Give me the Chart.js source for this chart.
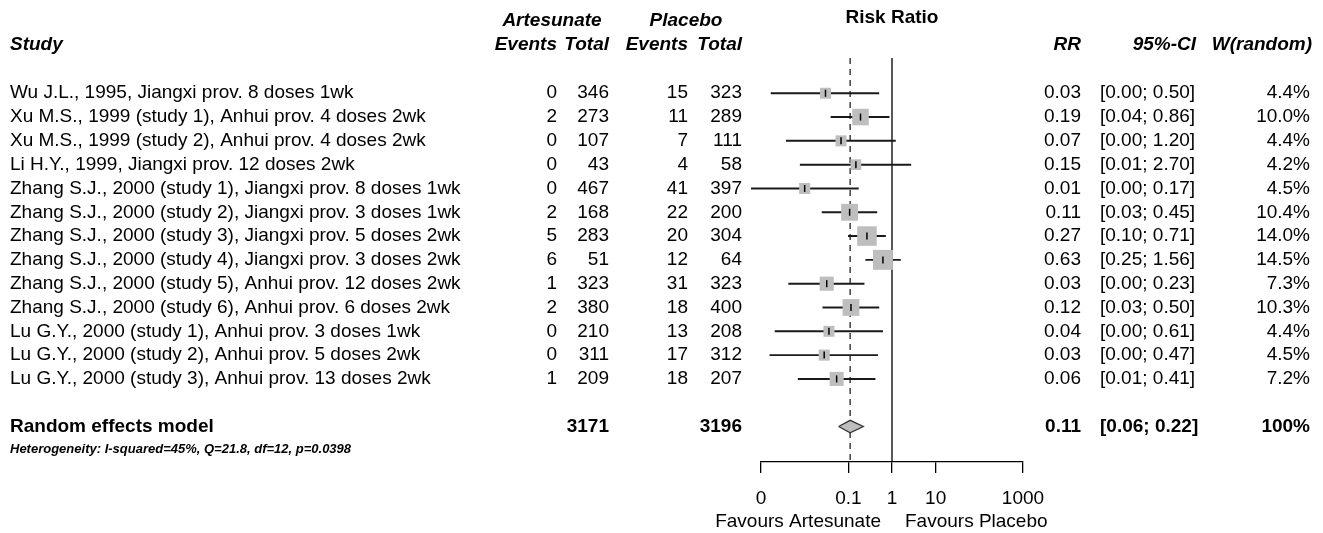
<!DOCTYPE html>
<html>
<head>
<meta charset="utf-8">
<title>Forest plot - Artesunate vs Placebo</title>
<script src="https://cdn.jsdelivr.net/npm/chart.js@4.4.0/dist/chart.umd.min.js"></script>
<style>
  body { margin: 0; background: #fff; }
  #wrap { width: 1323px; height: 533px; }
</style>
</head>
<body>
<div id="wrap"><canvas id="forest" width="1323" height="533"></canvas></div>
<script>
// study table
const studies = [
    'Wu J.L., 1995, Jiangxi prov. 8 doses 1wk',
    'Xu M.S., 1999 (study 1), Anhui prov. 4 doses 2wk',
    'Xu M.S., 1999 (study 2), Anhui prov. 4 doses 2wk',
    'Li H.Y., 1999, Jiangxi prov. 12 doses 2wk',
    'Zhang S.J., 2000 (study 1), Jiangxi prov. 8 doses 1wk',
    'Zhang S.J., 2000 (study 2), Jiangxi prov. 3 doses 1wk',
    'Zhang S.J., 2000 (study 3), Jiangxi prov. 5 doses 2wk',
    'Zhang S.J., 2000 (study 4), Jiangxi prov. 3 doses 2wk',
    'Zhang S.J., 2000 (study 5), Anhui prov. 12 doses 2wk',
    'Zhang S.J., 2000 (study 6), Anhui prov. 6 doses 2wk',
    'Lu G.Y., 2000 (study 1), Anhui prov. 3 doses 1wk',
    'Lu G.Y., 2000 (study 2), Anhui prov. 5 doses 2wk',
    'Lu G.Y., 2000 (study 3), Anhui prov. 13 doses 2wk'
];
const artEvents = [0, 2, 0, 0, 0, 2, 5, 6, 1, 2, 0, 0, 1];
const artTotal = [346, 273, 107, 43, 467, 168, 283, 51, 323, 380, 210, 311, 209];
const placEvents = [15, 11, 7, 4, 41, 22, 20, 12, 31, 18, 13, 17, 18];
const placTotal = [323, 289, 111, 58, 397, 200, 304, 64, 323, 400, 208, 312, 207];

// risk ratios and intervals
const rr = [0.030, 0.19, 0.068, 0.149, 0.010, 0.107, 0.267, 0.62, 0.032, 0.115, 0.036, 0.028, 0.054];
const ciLow = [0.0017, 0.04, 0.0038, 0.0079, 0.0006, 0.025, 0.10, 0.25, 0.0043, 0.026, 0.0021, 0.0016, 0.0071];
const ciHigh = [0.50, 0.86, 1.20, 2.70, 0.17, 0.45, 0.71, 1.56, 0.23, 0.50, 0.61, 0.47, 0.41];
const weights = [4.4, 10.0, 4.4, 4.2, 4.5, 10.4, 14.0, 14.5, 7.3, 10.3, 4.4, 4.5, 7.2];

const rrLabels = ['0.03', '0.19', '0.07', '0.15', '0.01', '0.11', '0.27', '0.63', '0.03', '0.12', '0.04', '0.03', '0.06'];
const ciLabels = ['[0.00; 0.50]', '[0.04; 0.86]', '[0.00; 1.20]', '[0.01; 2.70]', '[0.00; 0.17]', '[0.03; 0.45]',
    '[0.10; 0.71]', '[0.25; 1.56]', '[0.00; 0.23]', '[0.03; 0.50]', '[0.00; 0.61]', '[0.00; 0.47]', '[0.01; 0.41]'];
const weightLabels = ['4.4%', '10.0%', '4.4%', '4.2%', '4.5%', '10.4%', '14.0%', '14.5%', '7.3%', '10.3%', '4.4%', '4.5%', '7.2%'];

// pooled estimate
const pooledRR = 0.11;
const pooledLow = 0.06;
const pooledHigh = 0.22;
const pooledArtTotal = 3171;
const pooledPlacTotal = 3196;
const hetText = 'Heterogeneity: I-squared=45%, Q=21.8, df=12, p=0.0398';

// axis
const tickValues = [0.001, 0.1, 1, 10, 1000];
const tickLabels = ['0', '0.1', '1', '10', '1000'];

const FONT = '"Liberation Sans", Arial, Helvetica, sans-serif';
const POOLED_ROW = studies.length + 2;
const Y_MIN = -0.48;
const Y_MAX = 16.49;

function put(ctx, text, x, y, align, style) {
    ctx.save();
    ctx.font = style + ' ' + FONT;
    ctx.textAlign = align;
    ctx.textBaseline = 'middle';
    ctx.fillStyle = '#000';
    ctx.fillText(text, x, y);
    ctx.restore();
}

// the table columns and labels round the plot
const tablePlugin = {
    id: 'forestTable',
    afterDraw: function (chart) {
        var ctx = chart.ctx;
        var ys = chart.scales.y;
        var xs = chart.scales.x;
        var head = 'bold italic 19px';

        put(ctx, 'Risk Ratio', xs.getPixelForValue(1), 18, 'center', 'bold 19px');
        put(ctx, 'Artesunate', 552, 21, 'center', head);
        put(ctx, 'Placebo', 686, 21, 'center', head);
        put(ctx, 'Study', 10, 45, 'left', head);
        put(ctx, 'Events', 557, 45, 'right', head);
        put(ctx, 'Total', 609, 45, 'right', head);
        put(ctx, 'Events', 688, 45, 'right', head);
        put(ctx, 'Total', 742, 45, 'right', head);
        put(ctx, 'RR', 1081, 45, 'right', head);
        put(ctx, '95%-CI', 1196, 45, 'right', head);
        put(ctx, 'W(random)', 1312, 45, 'right', head);

        for (var i = 0; i < studies.length; i++) {
            var py = ys.getPixelForValue(i + 1);
            put(ctx, studies[i], 10, py, 'left', '19px');
            put(ctx, String(artEvents[i]), 557, py, 'right', '19px');
            put(ctx, String(artTotal[i]), 609, py, 'right', '19px');
            put(ctx, String(placEvents[i]), 688, py, 'right', '19px');
            put(ctx, String(placTotal[i]), 742, py, 'right', '19px');
            put(ctx, rrLabels[i], 1081, py, 'right', '19px');
            put(ctx, ciLabels[i], 1100, py, 'left', '19px');
            put(ctx, weightLabels[i], 1310, py, 'right', '19px');
        }

        var pr = ys.getPixelForValue(POOLED_ROW);
        put(ctx, 'Random effects model', 10, pr, 'left', 'bold 19px');
        put(ctx, String(pooledArtTotal), 609, pr, 'right', 'bold 19px');
        put(ctx, String(pooledPlacTotal), 742, pr, 'right', 'bold 19px');
        put(ctx, pooledRR.toFixed(2), 1081, pr, 'right', 'bold 19px');
        put(ctx, '[' + pooledLow.toFixed(2) + '; ' + pooledHigh.toFixed(2) + ']', 1100, pr, 'left', 'bold 19px');
        put(ctx, '100%', 1310, pr, 'right', 'bold 19px');
        put(ctx, hetText, 10, ys.getPixelForValue(POOLED_ROW + 0.95), 'left', 'bold italic 13px');

        var one = xs.getPixelForValue(1);
        put(ctx, 'Favours Artesunate', one - 11, 522, 'right', '19px');
        put(ctx, 'Favours Placebo', one + 13, 522, 'left', '19px');
    }
};

var ctx = document.getElementById('forest').getContext('2d');
var forestChart = new Chart(ctx, {
    type: 'scatter',
    data: {
        datasets: [
            {
                // line of no effect
                type: 'line',
                data: [{ x: 1, y: Y_MIN }, { x: 1, y: Y_MAX }],
                borderColor: '#000',
                borderWidth: 1.3,
                pointRadius: 0,
                order: 6
            },
            {
                // pooled estimate reference
                type: 'line',
                data: [{ x: pooledRR, y: Y_MIN }, { x: pooledRR, y: Y_MAX }],
                borderColor: '#222',
                borderWidth: 1.3,
                borderDash: [6, 5],
                pointRadius: 0,
                order: 5
            },
            {
                // confidence intervals
                type: 'bar',
                indexAxis: 'y',
                data: studies.map(function (s, i) { return { y: i + 1, x: [ciLow[i], ciHigh[i]] }; }),
                backgroundColor: '#1a1a1a',
                borderWidth: 0,
                barThickness: 1.3,
                clip: false,
                order: 4
            },
            {
                // study weight squares
                data: rr.map(function (v, i) { return { x: v, y: i + 1 }; }),
                pointStyle: 'rect',
                pointRadius: weights.map(function (w) { return 3.7 * Math.sqrt(w); }),
                backgroundColor: '#bebebe',
                borderWidth: 0,
                order: 3
            },
            {
                // point estimate ticks
                data: rr.map(function (v, i) { return { x: v, y: i + 1 }; }),
                pointStyle: 'line',
                rotation: 90,
                pointRadius: 3.5,
                borderColor: '#000',
                borderWidth: 1.5,
                order: 2
            },
            {
                // pooled diamond
                type: 'line',
                data: [
                    { x: pooledLow, y: POOLED_ROW },
                    { x: pooledRR, y: POOLED_ROW - 0.26 },
                    { x: pooledHigh, y: POOLED_ROW },
                    { x: pooledRR, y: POOLED_ROW + 0.26 },
                    { x: pooledLow, y: POOLED_ROW }
                ],
                fill: 'shape',
                backgroundColor: '#bebebe',
                borderColor: '#333',
                borderWidth: 1.3,
                tension: 0,
                pointRadius: 0,
                order: 1
            }
        ]
    },
    options: {
        responsive: false,
        animation: false,
        events: [],
        layout: { padding: { left: 761, right: 300, top: 58, bottom: 0 } },
        plugins: {
            legend: { display: false },
            tooltip: { enabled: false }
        },
        scales: {
            x: {
                type: 'logarithmic',
                min: 0.001,
                max: 1000,
                offset: false,
                afterBuildTicks: function (scale) {
                    scale.ticks = tickValues.map(function (v) { return { value: v }; });
                },
                afterFit: function (scale) { scale.height = 71; },
                ticks: {
                    autoSkip: false,
                    maxRotation: 0,
                    padding: 14,
                    color: '#000',
                    font: { family: FONT, size: 19 },
                    callback: function (value, index) { return tickLabels[index]; }
                },
                grid: { drawOnChartArea: false, drawTicks: true, tickLength: 11, color: '#000', lineWidth: 1.3 },
                border: { display: true, color: '#000', width: 1.3 }
            },
            y: {
                type: 'linear',
                reverse: true,
                min: Y_MIN,
                max: Y_MAX,
                offset: false,
                display: false
            }
        }
    },
    plugins: [tablePlugin]
});
</script>
</body>
</html>
